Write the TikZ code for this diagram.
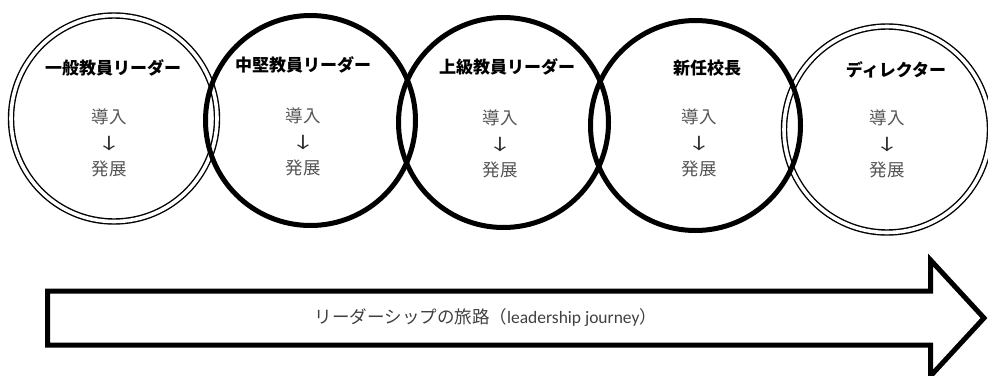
\documentclass[tikz,border=0pt]{standalone}
\usepackage{graphicx}
\usepackage{fontspec}
\setmainfont{Noto Sans CJK JP}
\newfontfamily\latfont{Carlito}
\definecolor{bodygray}{HTML}{555555}
\definecolor{textgray}{HTML}{404040}
\newcommand{\downarr}{\textcolor{black!85}{\scalebox{1.45}[0.9]{↓}}}
\tikzset{
  ringthick/.style={circle, draw=black, line width=5pt, minimum size=210pt, inner sep=0pt},
  ringdouble/.style={circle, draw=black, line width=1.4pt, double=white, double distance=3.6pt, minimum size=206pt, inner sep=0pt},
  titletext/.style={font=\fontsize{17}{18}\selectfont\bfseries, text=black, inner sep=0pt},
  bodytext/.style={font=\fontsize{17.5}{26}\selectfont, text=bodygray, align=center, inner sep=0pt},
  arrowbody/.style={draw=black, line width=5pt, miter limit=10},
  journeytext/.style={font=\fontsize{17.5}{20}\selectfont, text=textgray, inner sep=0pt}
}
\begin{document}
\begin{tikzpicture}[x=1pt,y=-1pt]
\useasboundingbox (0,0) rectangle (988,375);
% double rings first
\node[ringdouble] (c1) at (114,118.5) {};
\node[ringdouble] (c5) at (887,129.5) {};
% thick rings
\node[ringthick] (c2) at (310.5,120.5) {};
\node[ringthick] (c3) at (503.5,122.5) {};
\node[ringthick] (c4) at (695.5,125.5) {};
% titles
\node[titletext] (t1) at (113,68) {一般教員リーダー};
\node[titletext] (t2) at (303,65) {中堅教員リーダー};
\node[titletext] (t3) at (507,67) {上級教員リーダー};
\node[titletext] (t4) at (707,68) {新任校長};
\node[titletext] (t5) at (896,70) {ディレクター};
% bodies
\node[bodytext] (b1) at (109,143) {導入\\\downarr\\発展};
\node[bodytext] (b2) at (303,142) {導入\\\downarr\\発展};
\node[bodytext] (b3) at (500,143.5) {導入\\\downarr\\発展};
\node[bodytext] (b4) at (699,142.5) {導入\\\downarr\\発展};
\node[bodytext] (b5) at (887,143.5) {導入\\\downarr\\発展};
% journey arrow
\draw[arrowbody] (47.5,291) -- (930.5,291) -- (930.5,260) -- (984,318) -- (930.5,376) -- (930.5,345) -- (47.5,345) -- cycle;
\node[journeytext] (j) at (486,318) {リーダーシップの旅路（{\latfont leadership journey}）};
\end{tikzpicture}
\end{document}
